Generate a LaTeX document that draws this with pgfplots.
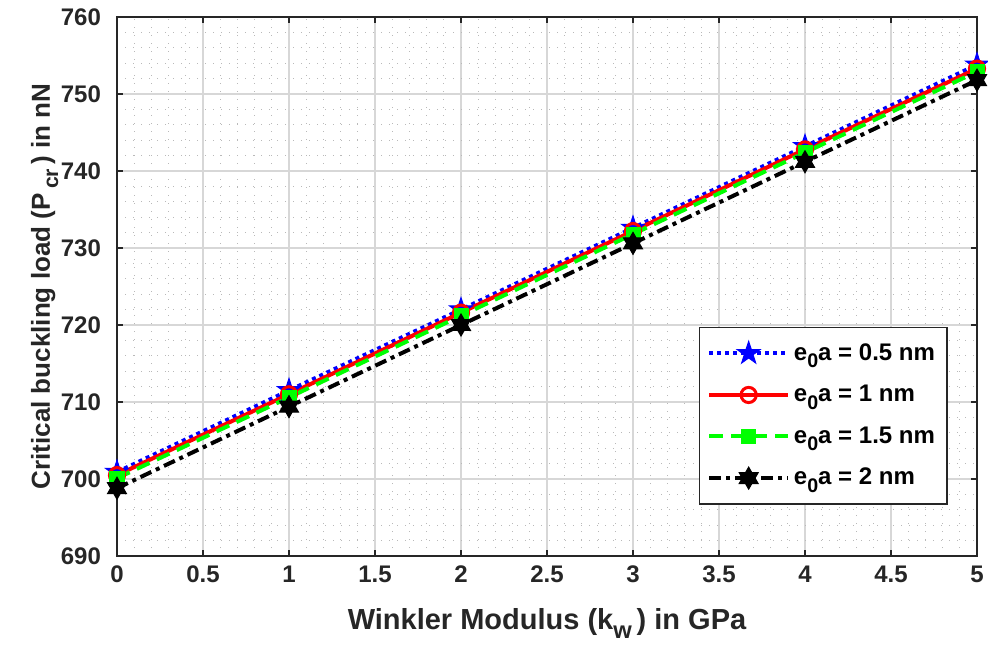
\documentclass[border=0pt]{standalone}
\usepackage{pgfplots}
\pgfplotsset{compat=1.18}
\usetikzlibrary{calc}
\usepackage{fontspec}
\setmainfont{Liberation Sans}
\definecolor{axgray}{RGB}{38,38,38}
\definecolor{gridgray}{RGB}{215,215,215}
\newcommand\sub[1]{\raisebox{-0.6ex}{\scalebox{0.82}{#1}}}
\pgfdeclareplotmark{pentagram}{%
  \pgfpathmoveto{\pgfpointpolar{90}{\pgfplotmarksize}}%
  \pgfpathlineto{\pgfpointpolar{126}{0.382\pgfplotmarksize}}%
  \pgfpathlineto{\pgfpointpolar{162}{\pgfplotmarksize}}%
  \pgfpathlineto{\pgfpointpolar{198}{0.382\pgfplotmarksize}}%
  \pgfpathlineto{\pgfpointpolar{234}{\pgfplotmarksize}}%
  \pgfpathlineto{\pgfpointpolar{270}{0.382\pgfplotmarksize}}%
  \pgfpathlineto{\pgfpointpolar{306}{\pgfplotmarksize}}%
  \pgfpathlineto{\pgfpointpolar{342}{0.382\pgfplotmarksize}}%
  \pgfpathlineto{\pgfpointpolar{18}{\pgfplotmarksize}}%
  \pgfpathlineto{\pgfpointpolar{54}{0.382\pgfplotmarksize}}%
  \pgfpathclose\pgfusepathqfillstroke}
\pgfdeclareplotmark{hexagram}{%
  \pgfpathmoveto{\pgfpointpolar{90}{\pgfplotmarksize}}%
  \pgfpathlineto{\pgfpointpolar{120}{0.577\pgfplotmarksize}}%
  \pgfpathlineto{\pgfpointpolar{150}{\pgfplotmarksize}}%
  \pgfpathlineto{\pgfpointpolar{180}{0.577\pgfplotmarksize}}%
  \pgfpathlineto{\pgfpointpolar{210}{\pgfplotmarksize}}%
  \pgfpathlineto{\pgfpointpolar{240}{0.577\pgfplotmarksize}}%
  \pgfpathlineto{\pgfpointpolar{270}{\pgfplotmarksize}}%
  \pgfpathlineto{\pgfpointpolar{300}{0.577\pgfplotmarksize}}%
  \pgfpathlineto{\pgfpointpolar{330}{\pgfplotmarksize}}%
  \pgfpathlineto{\pgfpointpolar{0}{0.577\pgfplotmarksize}}%
  \pgfpathlineto{\pgfpointpolar{30}{\pgfplotmarksize}}%
  \pgfpathlineto{\pgfpointpolar{60}{0.577\pgfplotmarksize}}%
  \pgfpathclose\pgfusepathqfillstroke}
\begin{document}
\begin{tikzpicture}
\begin{axis}[
  name=ax,
  scale only axis,
  width=430pt, height=269.5pt,
  xmin=0, xmax=5, ymin=690, ymax=760,
  xtick={0,0.5,...,5}, ytick={690,700,...,760},
  minor x tick num=4, minor y tick num=4,
  grid=both,
  major grid style={gridgray, line width=0.6pt},
  minor grid style={gray!55, line width=0.6pt, dash pattern=on 0.6pt off 3.4pt},
  axis line style={axgray, line width=0.9pt},
  tick style={axgray, line width=0.9pt},
  major tick length=3pt, minor tick length=0pt,
  tick align=inside,
  xtick pos=both, ytick pos=both,
  /pgf/number format/assume math mode=true,
  ticklabel style={font=\bfseries\fontsize{12}{14}\selectfont, text=axgray},
  xticklabel style={yshift=-1.5pt},
  yticklabel style={xshift=-4.5pt},
  xlabel style={font=\bfseries\fontsize{14.5}{16}\selectfont, text=axgray,
    at={(axis description cs:0.5,0)}, anchor=base, yshift=-36.5pt},
  ylabel style={font=\bfseries\fontsize{13}{15}\selectfont, text=axgray,
    at={($(axis description cs:0,0.5)+(-33.5pt,0)$)}, anchor=base, rotate=0},
  xlabel={Winkler Modulus (k\sub{w}\,) in GPa},
  ylabel={Critical buckling load (P\,\sub{cr}\,) in nN},
  legend style={at={(0.966,0.095)}, anchor=south east, draw=axgray, line width=0.8pt,
    fill=white, font=\bfseries\fontsize{12}{14}\selectfont, row sep=7pt,
    inner xsep=4pt, inner ysep=6pt},
  legend cell align=left,
  legend image code/.code={\draw[mark repeat=2,mark phase=2] plot coordinates {(0cm,0cm) (0.69cm,0cm) (1.38cm,0cm)};},
]
\addplot[blue, line width=2pt, dash pattern=on 2pt off 2pt, mark=pentagram, mark size=6pt,
  mark options={solid, fill=blue, line width=0.5pt}]
  coordinates {(0,700.9) (1,711.5) (2,722.0) (3,732.6) (4,743.2) (5,753.8)};
\addlegendentry{e\sub{0}a = 0.5 nm}
\addplot[red, line width=2pt, mark=o, mark size=3.8pt, mark options={solid, line width=1.5pt}]
  coordinates {(0,700.5) (1,711.0) (2,721.6) (3,732.2) (4,742.8) (5,753.3)};
\addlegendentry{e\sub{0}a = 1 nm}
\addplot[green, line width=2pt, dash pattern=on 7pt off 4pt, mark=square*, mark size=3.5pt,
  mark options={solid, fill=green, line width=0.5pt}]
  coordinates {(0,700.1) (1,710.6) (2,721.2) (3,731.8) (4,742.4) (5,752.9)};
\addlegendentry{e\sub{0}a = 1.5 nm}
\addplot[black, line width=2pt, dash pattern=on 6pt off 2.5pt on 2pt off 2.5pt, mark=hexagram, mark size=5.5pt,
  mark options={solid, fill=black, line width=0.5pt}]
  coordinates {(0,698.8) (1,709.4) (2,720.0) (3,730.6) (4,741.2) (5,751.8)};
\addlegendentry{e\sub{0}a = 2 nm}
\end{axis}
\pgfresetboundingbox
\path[use as bounding box] ($(ax.south west)+(-58.5pt,-45.5pt)$) rectangle ($(ax.north east)+(5.5pt,8.5pt)$);
\end{tikzpicture}
\end{document}
